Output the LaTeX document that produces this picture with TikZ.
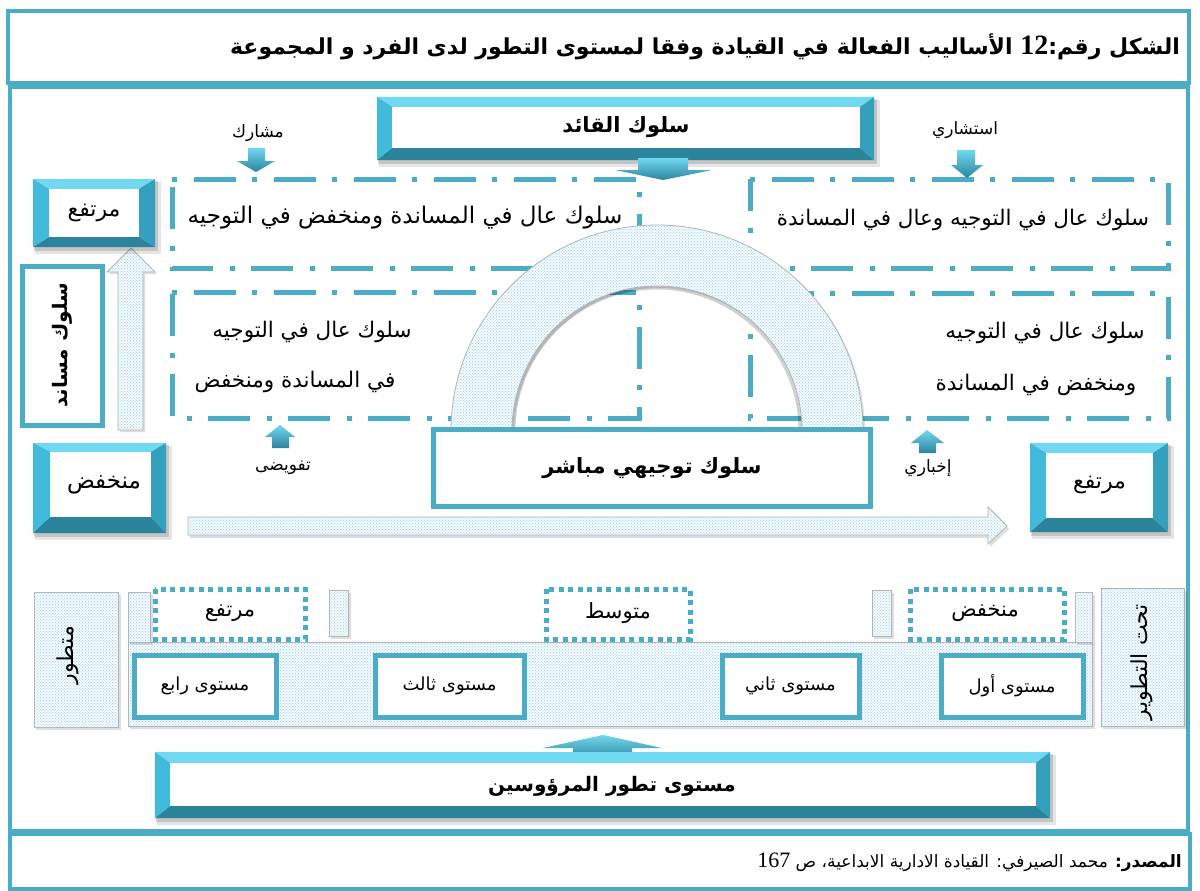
\documentclass[tikz,border=0pt]{standalone}
\usepackage{fontspec}
\TeXXeTstate=1
\newfontfamily\ar[Script=Arabic]{DejaVu Sans}
\newfontfamily\numfont{Liberation Serif}
\usetikzlibrary{patterns,fit}

\definecolor{teal1}{RGB}{75,172,198}
\definecolor{bvtop}{RGB}{112,216,240}
\definecolor{bvleft}{RGB}{66,186,219}
\definecolor{bvright}{RGB}{52,160,190}
\definecolor{bvbot}{RGB}{44,132,156}
\definecolor{dotbg}{RGB}{243,249,252}
\definecolor{dotfg}{RGB}{160,210,232}
\definecolor{edgegray}{RGB}{175,180,183}

\newcommand\AR[1]{\beginR #1\endR}

% raised box: name, outer x1 y1 x2 y2, inner x1 y1 x2 y2
\newcommand\bevelbox[9]{%
  \fill[black,opacity=0.10] (#2+2,#3+3) rectangle (#4+6,#5+7);
  \fill[black,opacity=0.14] (#2+1,#3+2) rectangle (#4+3,#5+4);
  \fill[bvtop]   (#2,#3) -- (#4,#3) -- (#8,#7) -- (#6,#7) -- cycle;
  \fill[bvbot]   (#2,#5) -- (#4,#5) -- (#8,#9) -- (#6,#9) -- cycle;
  \fill[bvleft]  (#2,#3) -- (#6,#7) -- (#6,#9) -- (#2,#5) -- cycle;
  \fill[bvright] (#4,#3) -- (#8,#7) -- (#8,#9) -- (#4,#5) -- cycle;
  \node[fill=white, inner sep=0pt, fit={(#6,#7) (#8,#9)}] (#1) {};
}

\tikzset{
  frame/.style={draw=teal1, line width=4pt},
  dashdotbox/.style={draw=teal1, line width=5pt,
    dash pattern=on 5pt off 17pt on 42pt off 16pt},
  dottedbox/.style={draw=teal1, line width=5pt, dash pattern=on 5pt off 4.5pt},
  levelbox/.style={draw=teal1, line width=5pt, fill=white},
  textured/.style={fill=dotbg, draw=edgegray, line width=0.8pt,
    postaction={pattern=crosshatch dots, pattern color=dotfg}},
  texshadow/.style={fill=black, opacity=0.13},
  smallarrow/.style={top color=bvtop, bottom color=bvbot, draw=none},
  titletext/.style={font=\ar\bfseries\fontsize{22}{26}\selectfont, inner sep=0pt},
  headtext/.style={font=\ar\bfseries\fontsize{21}{25}\selectfont, inner sep=0pt},
  boxtext/.style={font=\ar\fontsize{21.5}{25}\selectfont, inner sep=0pt},
  bevtext/.style={font=\ar\fontsize{22}{26}\selectfont, inner sep=0pt},
  label/.style={font=\ar\fontsize{17}{20}\selectfont, inner sep=0pt},
  leveltext/.style={font=\ar\fontsize{18}{21}\selectfont},
  scaletext/.style={font=\ar\fontsize{21}{25}\selectfont, inner sep=0pt},
  sidetext/.style={font=\ar\fontsize{22}{26}\selectfont, inner sep=0pt},
  foottext/.style={font=\ar\fontsize{17}{20}\selectfont, inner sep=0pt},
}

\begin{document}
\begin{tikzpicture}[x=1pt,y=-1pt]
\useasboundingbox (0,0) rectangle (1200,891);
\fill[white] (0,0) rectangle (1200,891);

% outer frames
\draw[frame] (8,11) rectangle (1189,83);
\draw[frame] (10,87) rectangle (1188,831);
\draw[frame] (10,834) rectangle (1190,889);

\node[titletext, anchor=east] (title) at (1180,47)
  {\AR{الشكل رقم:{\numfont\fontsize{28}{30}\selectfont\beginL 12\endL} الأساليب الفعالة في القيادة وفقا لمستوى التطور لدى الفرد و المجموعة}};

% quadrant boxes
\draw[dashdotbox] (172,179) -- (639,179) -- (639,268) -- (172,268) -- cycle;
\draw[dashdotbox] (750,179) -- (1168,179) -- (1168,268) -- (750,268) -- cycle;
\draw[dashdotbox] (172,292) -- (639,292) -- (639,418) -- (172,418) -- cycle;
\draw[dashdotbox] (750,293) -- (1168,293) -- (1168,418) -- (750,418) -- cycle;

\node[boxtext, font=\ar\fontsize{23}{27}\selectfont] (q1) at (405,218) {\AR{سلوك عال في المساندة ومنخفض في التوجيه}};
\node[boxtext] (q2) at (963,220) {\AR{سلوك عال في التوجيه وعال في المساندة}};
\node[boxtext] (q3a) at (312,332) {\AR{سلوك عال في التوجيه}};
\node[boxtext] (q3b) at (295,382) {\AR{في المساندة ومنخفض}};
\node[boxtext] (q4a) at (1045,333) {\AR{سلوك عال في التوجيه}};
\node[boxtext] (q4b) at (1036,385) {\AR{ومنخفض في المساندة}};

% arch
\fill[texshadow] (453,433) arc[start angle=180, end angle=0, radius=206pt]
  -- (804,433) arc[start angle=0, end angle=180, radius=145pt] -- cycle;
\path[textured] (451,431) arc[start angle=180, end angle=0, radius=206pt]
  -- (802,431) arc[start angle=0, end angle=180, radius=145pt] -- cycle;
\draw[black, opacity=0.18, line width=3pt] (514,431) arc[start angle=180, end angle=0, radius=143pt];

% leader behaviour box and its arrow
\bevelbox{leader}{377}{97}{874}{160}{392}{107}{860}{148}
\node[headtext] (leadert) at (leader.center) {\AR{سلوك القائد}};
\shade[smallarrow] (638,158) -- (688,158) -- (688,170) -- (712,170) -- (663,180)
  -- (615,170) -- (638,170) -- cycle;

% small arrows with labels
\node[label] (l1) at (258,133) {\AR{مشارك}};
\shade[smallarrow] (248,148) -- (265,148) -- (265,161) -- (275,161) -- (256,172)
  -- (237,161) -- (248,161) -- cycle;
\node[label] (l2) at (965,130) {\AR{استشاري}};
\shade[smallarrow] (957,150) -- (975,150) -- (975,165) -- (983,165) -- (967,178)
  -- (951,165) -- (957,165) -- cycle;
\node[label] (l3) at (283,468) {\AR{تفويضى}};
\shade[smallarrow] (272,448) -- (289,448) -- (289,437) -- (295,437) -- (280,425)
  -- (265,437) -- (272,437) -- cycle;
\node[label] (l4) at (928,468) {\AR{إخباري}};
\shade[smallarrow] (919,453) -- (936,453) -- (936,443) -- (944,443) -- (927,430)
  -- (911,443) -- (919,443) -- cycle;

% direct behaviour box
\node[levelbox, minimum width=437pt, minimum height=77pt] (direct) at (652,468)
  {\ar\bfseries\fontsize{21}{25}\selectfont\AR{سلوك توجيهي مباشر}};

% horizontal axis arrow
\fill[texshadow] (190,520) -- (990,520) -- (990,510) -- (1009,529) -- (990,547)
  -- (990,538) -- (190,538) -- cycle;
\path[textured] (188,517) -- (988,517) -- (988,507) -- (1007,526) -- (988,544)
  -- (988,535) -- (188,535) -- cycle;

% vertical axis arrow
\fill[texshadow] (120,432) -- (120,274) -- (109,274) -- (133,250) -- (157,274)
  -- (145,274) -- (145,432) -- cycle;
\path[textured] (118,430) -- (118,272) -- (107,272) -- (131,248) -- (155,272)
  -- (143,272) -- (143,430) -- cycle;

% side boxes
\bevelbox{highL}{33}{179}{155}{247}{49}{189}{139}{237}
\node[bevtext] (highLt) at (highL.center) {\AR{مرتفع}};
\node[levelbox, minimum width=80pt, minimum height=159pt] (support) at (62,345.5) {};
\node[font=\ar\bfseries\fontsize{20}{24}\selectfont, rotate=90] (supportt) at (support.center) {\AR{سلوك مساند}};
\bevelbox{lowL}{33}{443}{166}{533}{50}{452}{151}{517}
\node[bevtext, font=\ar\fontsize{23}{27}\selectfont] (lowLt) at (104,485) {\AR{منخفض}};
\bevelbox{highR}{1030}{443}{1168}{532}{1046}{453}{1153}{518}
\node[bevtext] (highRt) at (highR.center) {\AR{مرتفع}};

% development scale
\fill[texshadow] (36,595) rectangle (121,730);
\path[textured] (34,592) rectangle (118,727);
\fill[texshadow] (1103,591) rectangle (1187,729);
\path[textured] (1101,588) rectangle (1184,726);
\fill[texshadow] (130,645) rectangle (1095,729);
\path[textured] (128,642) rectangle (1092,726);
\fill[texshadow] (130,595) rectangle (153,645);
\path[textured] (128,592) rectangle (150,642);
\fill[texshadow] (331,593) rectangle (351,639);
\path[textured] (329,590) rectangle (348,636);
\fill[texshadow] (874,593) rectangle (894,639);
\path[textured] (872,590) rectangle (891,636);
\fill[texshadow] (1077,595) rectangle (1095,645);
\path[textured] (1075,592) rectangle (1092,642);

\node[sidetext, rotate=90] (devd) at (68,655) {\AR{متطور}};
\node[sidetext, rotate=90] (devu) at (1142,662) {\AR{تحت التطوير}};

\draw[dottedbox] (155,589) rectangle (305,639);
\draw[dottedbox] (546,589) rectangle (690,639);
\draw[dottedbox] (910,589) rectangle (1064,639);
\node[scaletext] (sh) at (230,613) {\AR{مرتفع}};
\node[scaletext] (sm) at (618,613) {\AR{متوسط}};
\node[scaletext] (sl) at (985,613) {\AR{منخفض}};

\node[levelbox, leveltext, minimum width=142pt, minimum height=62pt] (lv4) at (205,686)
  {\AR{مستوى رابع}};
\node[levelbox, leveltext, minimum width=149pt, minimum height=62pt] (lv3) at (449.5,686)
  {\AR{مستوى ثالث}};
\node[levelbox, leveltext, minimum width=137pt, minimum height=62pt] (lv2) at (790.5,686)
  {\AR{مستوى ثاني}};
\node[levelbox, leveltext, minimum width=142pt, minimum height=62pt] (lv1) at (1012,686)
  {\AR{مستوى أول}};

% subordinates box and its arrow
\shade[smallarrow] (573,760) -- (632,760) -- (632,748) -- (662,748) -- (603,735)
  -- (543,748) -- (573,748) -- cycle;
\bevelbox{subord}{155}{752}{1050}{818}{170}{763}{1036}{806}
\node[font=\ar\bfseries\fontsize{20}{24}\selectfont, inner sep=0pt] (subordt) at (612,786) {\AR{مستوى تطور المرؤوسين}};

% source line
\node[foottext, anchor=east] (source) at (1182,862)
  {\AR{{\bfseries المصدر:} محمد الصيرفي: القيادة الادارية الابداعية، ص {\numfont\fontsize{22}{24}\selectfont\beginL 167\endL}}};
\end{tikzpicture}
\end{document}
